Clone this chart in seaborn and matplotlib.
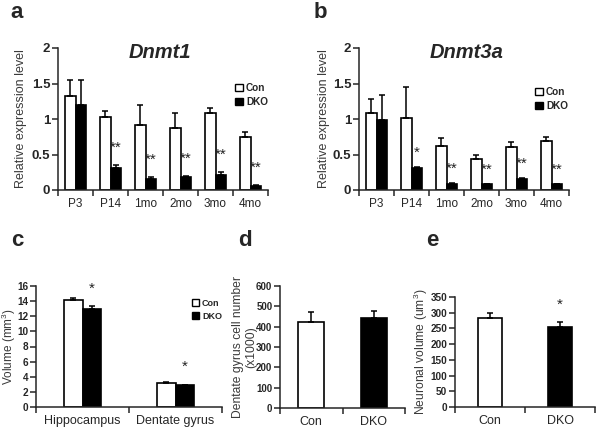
import numpy as np
import pandas as pd
import matplotlib
matplotlib.use("Agg")
import matplotlib.pyplot as plt
from matplotlib.patches import Patch
import seaborn as sns

# ---------------- data ----------------
ages = ["P3", "P14", "1mo", "2mo", "3mo", "4mo"]
dnmt1_con = [1.32, 1.03, 0.92, 0.88, 1.08, 0.75]
dnmt1_con_err = [0.23, 0.08, 0.28, 0.20, 0.07, 0.07]
dnmt1_dko = [1.20, 0.31, 0.16, 0.18, 0.21, 0.06]
dnmt1_dko_err = [0.35, 0.04, 0.02, 0.02, 0.04, 0.01]
dnmt1_sig = ["", "**", "**", "**", "**", "**"]

dnmt3a_con = [1.08, 1.01, 0.62, 0.43, 0.61, 0.69]
dnmt3a_con_err = [0.20, 0.44, 0.11, 0.07, 0.07, 0.05]
dnmt3a_dko = [0.98, 0.31, 0.09, 0.08, 0.155, 0.08]
dnmt3a_dko_err = [0.36, 0.02, 0.01, 0.01, 0.02, 0.01]
dnmt3a_sig = ["", "*", "**", "**", "**", "**"]

regions = ["Hippocampus", "Dentate gyrus"]
vol_con = [14.15, 3.2]
vol_con_err = [0.2, 0.05]
vol_dko = [12.9, 2.9]
vol_dko_err = [0.45, 0.07]
vol_sig = ["*", "*"]

genotypes = ["Con", "DKO"]
cell_num = [425, 445]
cell_num_err = [46, 32]
cell_sig = ["", ""]

neur_vol = [282, 256]
neur_vol_err = [17, 16]
neur_sig = ["", "*"]

# ---------------- style ----------------
sns.set_style("ticks")
plt.rcParams['font.family'] = ['Liberation Sans', 'DejaVu Sans']
plt.rcParams['axes.linewidth'] = 1.1
plt.rcParams['mathtext.fontset'] = 'custom'
plt.rcParams['mathtext.rm'] = 'Liberation Sans'

W, H = 602, 429
fig = plt.figure(figsize=(W / 100, H / 100), dpi=100)


def add_axes(l, r, t, b):
    return fig.add_axes([l / W, 1 - b / H, (r - l) / W, (b - t) / H])


pal = {"Con": "white", "DKO": "black"}


def style_axes(ax, yticks, ylabels, ylabel, tick_fs, xlab_fs, ylab_fs, label_x):
    n = len(ax.get_xticks())
    sns.despine(ax=ax)
    ax.set_ylim(yticks[0], yticks[-1])
    ax.set_yticks(yticks)
    ax.set_yticklabels(ylabels, fontweight="bold", fontsize=tick_fs)
    ax.set_xticks(np.arange(-0.5, n), minor=True)
    ax.tick_params(axis="x", which="major", length=0, pad=6, labelsize=xlab_fs)
    ax.tick_params(axis="x", which="minor", length=4, width=1.1, direction="out")
    ax.tick_params(axis="y", length=4, width=1.1, direction="out", pad=1.5)
    ax.set_xlim(-0.5, n - 0.5)
    ax.set_xlabel("")
    ax.set_ylabel(ylabel, fontsize=ylab_fs, color="#3a3a3a", linespacing=1.1)
    ax.yaxis.set_label_coords(label_x, 0.5)


def add_errors(ax, errs_list, sigs_list, offset, star_fs):
    for cont, errs, sigs in zip(ax.containers, errs_list, sigs_list):
        xs = [p.get_x() + p.get_width() / 2 for p in cont]
        ys = [p.get_height() for p in cont]
        ax.errorbar(xs, ys, yerr=[np.zeros(len(errs)), errs], fmt="none",
                    ecolor="black", elinewidth=1.1, capsize=2.5, capthick=1.1)
        for x, y, e, s in zip(xs, ys, errs, sigs):
            if s:
                ax.text(x, y + e + offset, s, ha="center", va="center",
                        fontsize=star_fs, color="#222222")


def grouped(ax, cats, con, dko, width):
    df = pd.DataFrame({
        "cat": cats * 2,
        "val": list(con) + list(dko),
        "geno": ["Con"] * len(cats) + ["DKO"] * len(cats),
    })
    sns.barplot(data=df, x="cat", y="val", hue="geno", palette=pal,
                order=cats, hue_order=genotypes, width=width,
                edgecolor="black", linewidth=1.2, errorbar=None, legend=False, ax=ax)


def legend(x, y, size):
    handles = [Patch(facecolor="white", edgecolor="black", linewidth=1.0, label="Con"),
               Patch(facecolor="black", edgecolor="black", linewidth=1.0, label="DKO")]
    return fig.legend(handles=handles, loc="upper left", bbox_to_anchor=(x / W, 1 - y / H),
                      frameon=False, borderpad=0, handlelength=0.8, handleheight=0.8,
                      handletextpad=0.3, labelspacing=0.4, borderaxespad=0,
                      prop={"weight": "bold", "size": size})


# ---- panel a ----
axa = add_axes(58, 268, 48, 190)
grouped(axa, ages, dnmt1_con, dnmt1_dko, 0.6)
style_axes(axa, [0, 0.5, 1, 1.5, 2], ["0", "0.5", "1", "1.5", "2"],
           "Relative expression level", 9.5, 8.5, 9, -0.148)
add_errors(axa, [dnmt1_con_err, dnmt1_dko_err], [[""] * 6, dnmt1_sig], 0.24, 11)
axa.text(0.486, 0.97, "Dnmt1", transform=axa.transAxes, ha="center", va="center",
         fontsize=14.5, fontweight="bold", fontstyle="italic")
legend(235, 83, 7.2)

# ---- panel b ----
axb = add_axes(359, 569, 48, 190)
grouped(axb, ages, dnmt3a_con, dnmt3a_dko, 0.6)
style_axes(axb, [0, 0.5, 1, 1.5, 2], ["0", "0.5", "1", "1.5", "2"],
           "Relative expression level", 9.5, 8.5, 9, -0.138)
add_errors(axb, [dnmt3a_con_err, dnmt3a_dko_err], [[""] * 6, dnmt3a_sig], 0.2, 11)
axb.text(0.51, 0.97, "Dnmt3a", transform=axb.transAxes, ha="center", va="center",
         fontsize=14.5, fontweight="bold", fontstyle="italic")
legend(535, 87, 7.2)

# ---- panel c ----
axc = add_axes(36, 222, 286, 407)
grouped(axc, regions, vol_con, vol_dko, 0.4)
style_axes(axc, list(range(0, 17, 2)), [str(v) for v in range(0, 17, 2)],
           "Volume (mm$^3$)", 7.2, 9, 8.5, -0.097)
add_errors(axc, [vol_con_err, vol_dko_err], [["", ""], vol_sig], 2.3, 11)
legend(192, 299, 6.5)

# ---- panel d ----
axd = add_axes(280, 405, 286, 408)
sns.barplot(x=genotypes, y=cell_num, hue=genotypes, palette=pal, width=0.42,
            edgecolor="black", linewidth=1.2, errorbar=None, legend=False, ax=axd)
style_axes(axd, list(range(0, 601, 100)), [str(v) for v in range(0, 601, 100)],
           "Dentate gyrus cell number\n(x1000)", 7, 9, 8.7, -0.186)
add_errors(axd, [[cell_num_err[0]], [cell_num_err[1]]], [[cell_sig[0]], [cell_sig[1]]], 50, 11)

# ---- panel e ----
axe = add_axes(455, 595, 297, 407)
sns.barplot(x=genotypes, y=neur_vol, hue=genotypes, palette=pal, width=0.35,
            edgecolor="black", linewidth=1.2, errorbar=None, legend=False, ax=axe)
style_axes(axe, list(range(0, 351, 50)), [str(v) for v in range(0, 351, 50)],
           "Neuronal volume (um$^3$)", 7.2, 9, 8.7, -0.178)
add_errors(axe, [[neur_vol_err[0]], [neur_vol_err[1]]], [[neur_sig[0]], [neur_sig[1]]], 52, 11)

# ---- panel letters ----
for letter, x, y in [("a", 17, 13), ("b", 320, 13), ("c", 17, 240), ("d", 245, 240), ("e", 432, 240)]:
    fig.text(x / W, 1 - y / H, letter, ha="center", va="center", fontsize=16, fontweight="bold")

fig.savefig("out.png", dpi=100)
